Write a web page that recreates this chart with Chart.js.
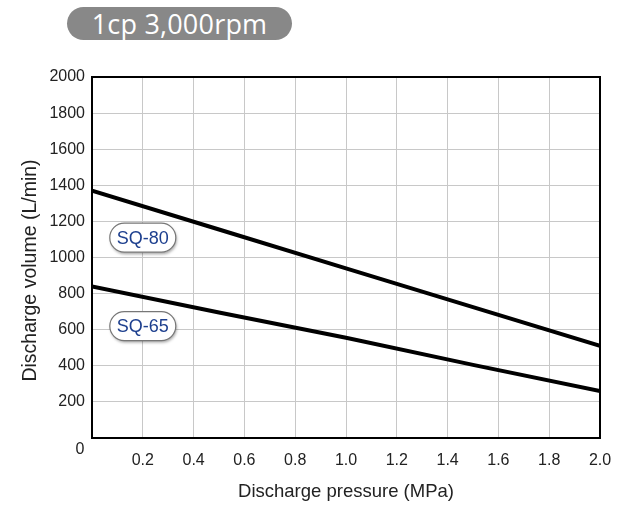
<!DOCTYPE html>
<html>
<head>
<meta charset="utf-8">
<script src="https://cdn.jsdelivr.net/npm/chart.js@4/dist/chart.umd.min.js"></script>
<style>
    body { margin: 0; background: #fff; }
    #wrap { position: relative; width: 618px; height: 506px; }
    #badge {
        position: absolute; left: 67px; top: 7px; width: 225px; height: 33px;
        background: #888; border-radius: 17px; color: #fff;
        font-family: 'Open Sans', sans-serif; font-size: 27px; line-height: 33px;
        text-align: center; letter-spacing: 0.2px;
    }
    canvas { position: absolute; left: 0; top: 0; }
</style>
</head>
<body>
<div id="wrap">
    <div id="badge">1cp 3,000rpm</div>
    <canvas id="chart" width="618" height="506"></canvas>
</div>
<script>
// pressure (MPa) points along each curve
const pressure = [0, 0.5, 1.0, 1.5, 2.0];
const sq80 = [1370, 1155, 940, 725, 510];
const sq65 = [840, 695, 555, 405, 260];

const seriesNames = ['SQ-80', 'SQ-65'];
// where the name tags sit, in data units
const tagX = [0.2, 0.2];
const tagY = [1110, 620];

const xTicks = [0.2, 0.4, 0.6, 0.8, 1.0, 1.2, 1.4, 1.6, 1.8, 2.0];
const yTitle = 'Discharge volume (L/min)';

const FONT = "'Liberation Sans', Arial, sans-serif";

/**
 * Draws the rounded name tag for a series.
 */
function DrawTag(ctx, cx, cy, text) {
    const w = 66, h = 29, r = 14.5;
    const x = cx - w / 2, y = cy - h / 2;

    ctx.save();
    ctx.shadowColor = 'rgba(0,0,0,0.35)';
    ctx.shadowBlur = 3;
    ctx.shadowOffsetX = 1;
    ctx.shadowOffsetY = 2;
    ctx.beginPath();
    ctx.roundRect(x, y, w, h, r);
    ctx.fillStyle = '#fff';
    ctx.fill();
    ctx.restore();

    ctx.save();
    ctx.beginPath();
    ctx.roundRect(x, y, w, h, r);
    ctx.strokeStyle = '#777';
    ctx.lineWidth = 1.2;
    ctx.stroke();
    ctx.fillStyle = '#1d3f8e';
    ctx.font = '18px ' + FONT;
    ctx.textAlign = 'center';
    ctx.textBaseline = 'middle';
    ctx.fillText(text, cx, cy + 1);
    ctx.restore();
}

const extras = {
    id: 'extras',
    afterDraw: (chart) => {
        const ctx = chart.ctx;
        const a = chart.chartArea;
        const xs = chart.scales.x, ys = chart.scales.y;

        ctx.save();
        ctx.strokeStyle = '#000';
        ctx.lineWidth = 2;
        ctx.strokeRect(a.left, a.top, a.right - a.left, a.bottom - a.top);

        // the zero label sits below the corner
        ctx.fillStyle = '#222';
        ctx.font = '16px ' + FONT;
        ctx.textAlign = 'center';
        ctx.textBaseline = 'middle';
        ctx.fillText('0', 80, ys.getPixelForValue(0) + 12);

        // y title sits a little below the middle of the axis
        ctx.translate(31, (a.top + a.bottom) / 2 + 13);
        ctx.rotate(-Math.PI / 2);
        ctx.font = '19.5px ' + FONT;
        ctx.fillText(yTitle, 0, 0);
        ctx.restore();

        for (let i = 0; i < seriesNames.length; i++)
            DrawTag(ctx, xs.getPixelForValue(tagX[i]), ys.getPixelForValue(tagY[i]), seriesNames[i]);
    }
};

const lineStyle = {
    borderColor: '#000',
    borderWidth: 4,
    pointRadius: 0,
    fill: false,
    tension: 0
};

new Chart(document.getElementById('chart'), {
    type: 'line',
    data: {
        datasets: [
            Object.assign({label: seriesNames[0], data: pressure.map((p, i) => ({x: p, y: sq80[i]}))}, lineStyle),
            Object.assign({label: seriesNames[1], data: pressure.map((p, i) => ({x: p, y: sq65[i]}))}, lineStyle)
        ]
    },
    options: {
        responsive: false,
        animation: false,
        layout: {padding: {top: 77, right: 18, left: 20, bottom: 3}},
        plugins: {legend: {display: false}, tooltip: {enabled: false}},
        scales: {
            x: {
                type: 'linear',
                min: 0,
                max: 2,
                afterBuildTicks: (s) => { s.ticks = [0].concat(xTicks).map(v => ({value: v})); },
                afterFit: (s) => { s.height = 65; s.paddingLeft = 0; s.paddingRight = 0; },
                grid: {color: '#c8c8c8', lineWidth: 1, drawTicks: false},
                border: {color: '#000', width: 2},
                ticks: {
                    color: '#222',
                    padding: 13,
                    maxRotation: 0,
                    font: {family: FONT, size: 16},
                    callback: (v) => v == 0 ? '' : Number(v).toFixed(1)
                },
                title: {
                    display: true,
                    text: 'Discharge pressure (MPa)',
                    color: '#222',
                    font: {family: FONT, size: 18.5},
                    padding: 0
                }
            },
            y: {
                min: 0,
                max: 2000,
                afterFit: (s) => { s.width = 72; s.paddingTop = 0; s.paddingBottom = 0; },
                grid: {color: '#c8c8c8', lineWidth: 1, drawTicks: false},
                border: {color: '#000', width: 2},
                ticks: {
                    stepSize: 200,
                    color: '#222',
                    padding: 7,
                    font: {family: FONT, size: 16},
                    callback: (v) => v == 0 ? '' : v
                }
            }
        }
    },
    plugins: [extras]
});
</script>
</body>
</html>
